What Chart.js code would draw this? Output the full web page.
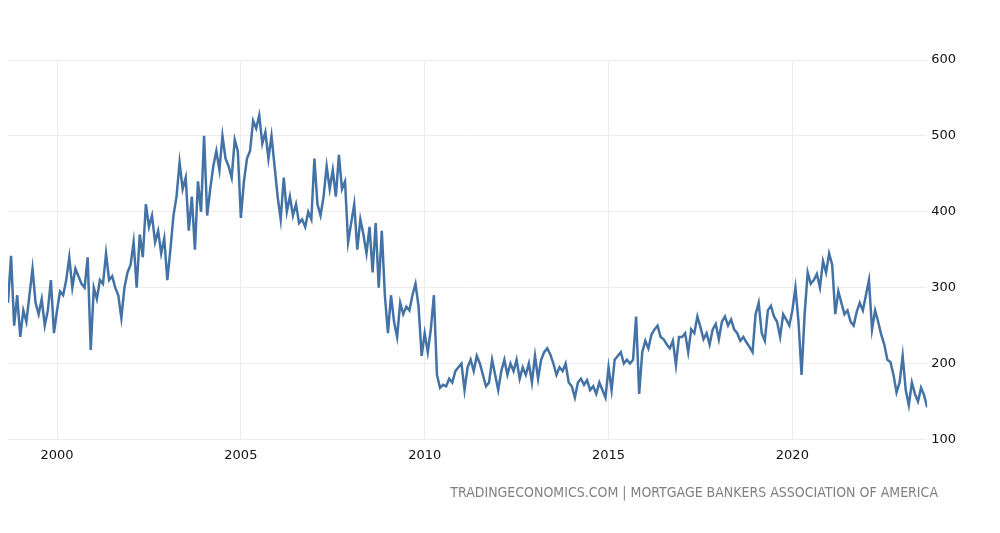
<!DOCTYPE html>
<html>
<head>
<meta charset="utf-8">
<script src="https://cdn.jsdelivr.net/npm/chart.js@4"></script>
<style>
  html, body { margin: 0; padding: 0; background: #fff; }
  #wrap { position: relative; width: 1000px; height: 533px; }
  #source { position: absolute; right: 62px; top: 484px; font: 14px "DejaVu Sans Condensed", "DejaVu Sans", sans-serif; color: #808080; white-space: nowrap; }
</style>
</head>
<body>
<div id="wrap">
  <canvas id="myChart" width="1000" height="533"></canvas>
  <div id="source">TRADINGECONOMICS.COM | MORTGAGE BANKERS ASSOCIATION OF AMERICA</div>
</div>
<script>
// monthly readings, Sep 1998 .. Sep 2023
var startYear = 1998 + 8 / 12;
var purchaseIndex = [
  280, 342, 250, 290,                                       // 1998 Sep-Dec
  235, 270, 255, 290, 325, 280, 265, 285, 250, 270, 310, 240, // 1999
  270, 295, 290, 310, 340, 300, 325, 315, 305, 300, 340, 218, // 2000
  300, 285, 310, 305, 345, 310, 315, 300, 290, 260, 300, 320, // 2001
  330, 360, 300, 370, 340, 410, 380, 395, 360, 375, 345, 365, // 2002
  310, 350, 395, 420, 465, 430, 445, 375, 420, 350, 440, 400, // 2003
  500, 395, 430, 460, 480, 455, 500, 470, 460, 445, 495, 480, // 2004
  392, 440, 470, 480, 520, 510, 527, 490, 505, 470, 500, 460, // 2005
  420, 390, 445, 400, 420, 395, 410, 385, 390, 380, 400, 390, // 2006
  470, 410, 395, 420, 460, 430, 455, 420, 475, 430, 440, 360, // 2007
  385, 410, 350, 390, 370, 345, 380, 320, 385, 300, 375, 290, // 2008
  240, 290, 255, 235, 280, 265, 275, 270, 290, 305, 275, 210, // 2009
  240, 215, 245, 290, 185, 168, 172, 170, 180, 175, 190, 195, // 2010
  200, 165, 195, 205, 190, 210, 200, 185, 170, 175, 205, 185, // 2011
  165, 190, 205, 185, 200, 190, 205, 180, 195, 185, 200, 175, // 2012
  210, 180, 205, 215, 220, 212, 200, 185, 195, 190, 200, 175, // 2013
  170, 155, 175, 180, 172, 178, 165, 170, 160, 175, 165, 155, // 2014
  195, 165, 205, 210, 215, 200, 205, 200, 205, 262, 160, 215, // 2015
  230, 220, 238, 245, 250, 235, 232, 225, 220, 230, 198, 235, // 2016
  235, 240, 215, 245, 240, 262, 248, 232, 240, 225, 245, 252, // 2017
  232, 255, 262, 250, 258, 245, 240, 230, 235, 228, 222, 215, // 2018
  265, 280, 240, 230, 270, 276, 262, 255, 235, 265, 258, 250, // 2019
  270, 300, 255, 185, 265, 320, 305, 310, 318, 300, 335, 320, // 2020
  345, 330, 265, 295, 280, 265, 270, 255, 250, 268, 280, 270, // 2021
  290, 310, 245, 270, 255, 238, 225, 205, 202, 185, 162, 175, // 2022
  210, 165, 145, 175, 160, 150, 168, 158, 142                 // 2023 Jan-Sep
];
var yearTicks = [2000, 2005, 2010, 2015, 2020];
var valueTicks = [100, 200, 300, 400, 500, 600];

var points = purchaseIndex.map(function (v, i) {
  return { x: startYear + i / 12, y: v };
});

var gridColor = '#ececec';
var ctx = document.getElementById('myChart').getContext('2d');
window.myLine = new Chart(ctx, {
  type: 'line',
  data: {
    datasets: [{
      data: points,
      borderColor: '#4372a6',
      borderWidth: 2.5,
      pointRadius: 0,
      tension: 0,
      fill: false
    }]
  },
  options: {
    responsive: false,
    animation: false,
    layout: { padding: { left: 8, right: 40, top: 60, bottom: 62 } },
    plugins: { legend: { display: false }, tooltip: { enabled: false } },
    scales: {
      x: {
        type: 'linear',
        min: startYear,
        max: startYear + (purchaseIndex.length - 1) / 12,
        afterBuildTicks: function (scale) {
          scale.ticks = yearTicks.map(function (v) { return { value: v }; });
        },
        grid: { color: gridColor, drawTicks: false },
        border: { display: false },
        ticks: {
          color: '#111',
          padding: 8,
          maxRotation: 0,
          font: { family: 'DejaVu Sans', size: 13 },
          callback: function (v) { return String(v); }
        }
      },
      y: {
        position: 'right',
        min: valueTicks[0],
        max: valueTicks[valueTicks.length - 1],
        afterBuildTicks: function (scale) {
          scale.ticks = valueTicks.map(function (v) { return { value: v }; });
        },
        grid: { color: gridColor, drawTicks: false },
        border: { display: false },
        ticks: {
          color: '#111',
          padding: 4,
          font: { family: 'DejaVu Sans', size: 13 }
        }
      }
    }
  }
});
</script>
</body>
</html>
